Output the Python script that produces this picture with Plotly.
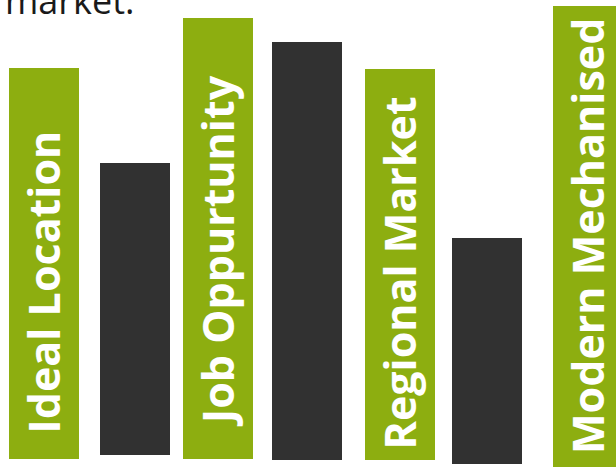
import plotly.graph_objects as go

categories = ["Ideal Location", "", "Job Oppurtunity", "", "Regional Market", "", "Modern Mechanised"]
x_centers = [44, 135, 218, 307, 400, 487, 588]
bar_bases = [8, 12, 8, 7, 7, 3, -5]
bar_heights = [391, 292, 441, 418, 391, 226, 466]
label_starts = [35, 0, 42, 0, 19, 0, 15]
kinds = ["green", "dark", "green", "dark", "green", "dark", "green"]
top_text = "market."

GREEN = "#8DAE10"
DARK = "#313131"
colors = [GREEN if k == "green" else DARK for k in kinds]

fig = go.Figure()
fig.add_trace(go.Bar(
    x=x_centers,
    y=bar_heights,
    base=bar_bases,
    width=70,
    marker=dict(color=colors, line=dict(width=0)),
    hoverinfo="skip",
    showlegend=False,
))

annotations = []
for cat, xc, ls in zip(categories, x_centers, label_starts):
    if not cat:
        continue
    annotations.append(dict(
        x=xc, y=ls, xref="x", yref="y",
        text="<b>" + cat + "</b>",
        textangle=-90,
        showarrow=False,
        xanchor="center", yanchor="bottom",
        xshift=-1, yshift=-4,
        font=dict(family="Open Sans", size=43, color="white"),
    ))

annotations.append(dict(
    x=0, y=1, xref="paper", yref="paper",
    text=top_text, showarrow=False,
    xanchor="left", yanchor="middle",
    xshift=3, yshift=-0.5,
    font=dict(family="Open Sans", size=36, color="#1a1a1a"),
))

fig.update_layout(
    width=616, height=467,
    margin=dict(l=0, r=0, t=0, b=0),
    paper_bgcolor="white", plot_bgcolor="white",
    xaxis=dict(range=[0, 616], visible=False, fixedrange=True),
    yaxis=dict(range=[0, 467], visible=False, fixedrange=True),
    annotations=annotations,
    bargap=0,
)

fig.write_html(
    "out.html",
    config={"displayModeBar": False},
    post_script="document.body.style.margin='0';document.body.style.overflow='hidden';",
)
